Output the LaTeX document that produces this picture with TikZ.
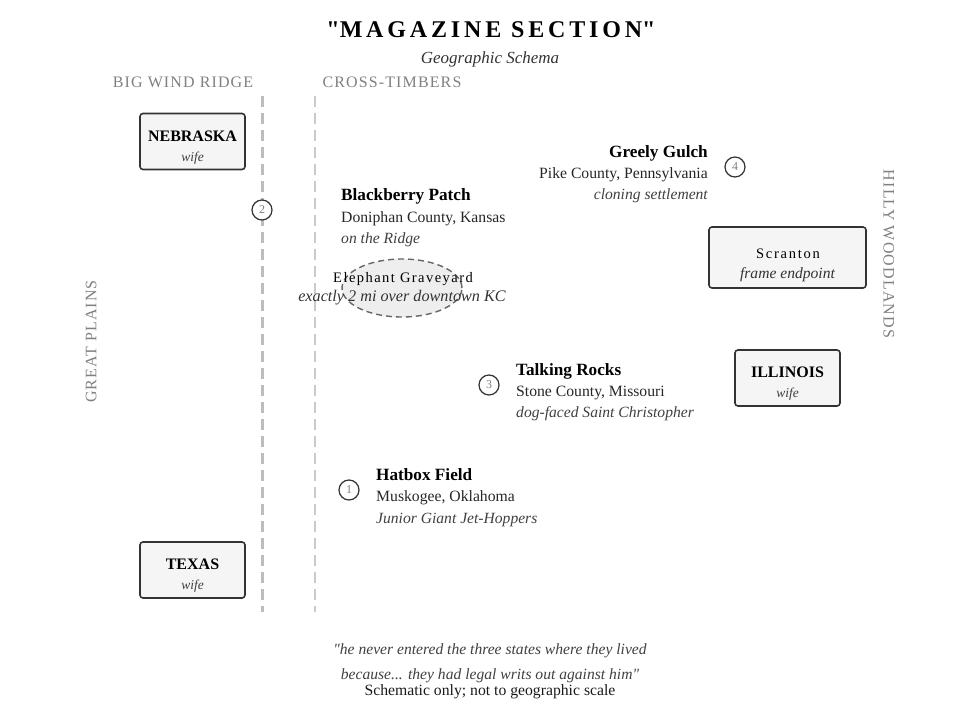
\documentclass[tikz,border=0pt]{standalone}
\usepackage{fontspec}
\setmainfont{Liberation Serif}
\usetikzlibrary{shapes.geometric}
\definecolor{boxfill}{HTML}{F5F5F5}
\definecolor{boxline}{HTML}{333333}
\definecolor{regiongray}{HTML}{808080}
\definecolor{linegray}{HTML}{BDBDBD}
\definecolor{ellfill}{HTML}{EEEEEE}
\tikzset{
  statebox/.style={draw=boxline, line width=1.6pt, fill=boxfill, rounded corners=3pt, minimum width=105pt, minimum height=56pt, inner sep=0pt},
  boxtitle/.style={inner sep=0pt, anchor=mid, font=\fontsize{16}{16}\selectfont\bfseries},
  boxnote/.style={inner sep=0pt, anchor=mid, font=\fontsize{13.5}{13.5}\selectfont\itshape, text=black!75},
  marker/.style={circle, draw=boxline, line width=1.2pt, fill=white, minimum size=20pt, inner sep=0pt, font=\fontsize{12}{12}\selectfont, text=gray},
  region/.style={text=regiongray, font=\fontsize{16}{16}\selectfont\addfontfeatures{LetterSpace=7}, inner sep=0pt, anchor=mid},
  ridge/.style={draw=linegray, line width=3pt, dash pattern=on 11pt off 6pt},
  timber/.style={draw=linegray!80, line width=2.5pt, dash pattern=on 11pt off 6pt},
  ttl/.style={font=\fontsize{17.2}{17.2}\selectfont\bfseries, inner sep=0pt},
  sub/.style={font=\fontsize{15.7}{15.7}\selectfont, text=black!85, inner sep=0pt},
  note/.style={font=\fontsize{15.6}{15.6}\selectfont\itshape, text=black!75, inner sep=0pt},
}
\begin{document}
\begin{tikzpicture}[x=1pt,y=-1pt]
\useasboundingbox (0,0) rectangle (980,717);
% title
\node[inner sep=0pt, anchor=mid, font=\fontsize{24}{24}\selectfont\bfseries\addfontfeatures{LetterSpace=16}] (title) at (491,35) {\textquotedbl MAGAZINE SECTION\textquotedbl};
\node[inner sep=0pt, anchor=mid, font=\fontsize{17}{17}\selectfont\itshape, text=black!80] (subtitle) at (490,61) {Geographic Schema};
% region labels
\node[region] (bwr) at (183,85) {BIG WIND RIDGE};
\node[region] (ct) at (392,85) {CROSS-TIMBERS};
\node[region, rotate=90] (gp) at (94,341.5) {GREAT PLAINS};
\node[region, rotate=-90] (hw) at (886,254) {HILLY WOODLANDS};
% dashed lines
\coordinate (r1) at (262,96); \coordinate (r2) at (262,612);
\coordinate (t1) at (315,96); \coordinate (t2) at (315,612);
\draw[ridge] (r1) -- (r2);
\draw[timber] (t1) -- (t2);
% Elephant Graveyard
\node[ellipse, draw=black!60, line width=1.4pt, dash pattern=on 6pt off 4pt, fill=ellfill, minimum width=120pt, minimum height=58pt] (eg) at (402,288) {};
\node[inner sep=0pt, anchor=mid, font=\fontsize{14.5}{14.5}\selectfont\addfontfeatures{LetterSpace=10}] (egt) at (403,280) {Elephant Graveyard};
\node[inner sep=0pt, anchor=mid, font=\fontsize{16.2}{16.2}\selectfont\itshape, text=black!80] (egs) at (402,299) {exactly 2 mi over downtown KC};
% state boxes
\node[statebox] (neb) at (192.5,141.5) {};
\node[boxtitle] (nebt) at (192.5,139) {NEBRASKA};
\node[boxnote] (nebn) at (192.5,159) {wife};
\node[statebox] (tex) at (192.5,570) {};
\node[boxtitle] (text) at (192.5,567) {TEXAS};
\node[boxnote] (texn) at (192.5,587) {wife};
\node[statebox] (ill) at (787.5,378) {};
\node[boxtitle] (illt) at (787.5,375) {ILLINOIS};
\node[boxnote] (illn) at (787.5,395) {wife};
\node[statebox, minimum width=157pt, minimum height=61pt] (scr) at (787.5,257.5) {};
\node[inner sep=0pt, anchor=mid, font=\fontsize{14.5}{14.5}\selectfont\addfontfeatures{LetterSpace=12}] (scrt) at (788,256) {Scranton};
\node[inner sep=0pt, anchor=mid, font=\fontsize{15.6}{15.6}\selectfont\itshape, text=black!80] (scrn) at (787.5,276) {frame endpoint};
% markers
\node[marker] (m2) at (262,210) {2};
\node[marker] (m4) at (735,167) {4};
\node[marker] (m3) at (489,385) {3};
\node[marker] (m1) at (349,490) {1};
% Blackberry Patch
\node[ttl, anchor=mid west] (bp) at (341,198) {Blackberry Patch};
\node[sub, anchor=mid west] (bps) at (341,220) {Doniphan County, Kansas};
\node[note, anchor=mid west] (bpn) at (341,241) {on the Ridge};
% Greely Gulch
\node[ttl, anchor=mid east] (gg) at (708,155) {Greely Gulch};
\node[sub, anchor=mid east] (ggs) at (708,176) {Pike County, Pennsylvania};
\node[note, anchor=mid east] (ggn) at (708,197) {cloning settlement};
% Talking Rocks
\node[ttl, anchor=mid west] (tr) at (516,373) {Talking Rocks};
\node[sub, anchor=mid west] (trs) at (516,394) {Stone County, Missouri};
\node[note, anchor=mid west] (trn) at (516,415) {dog-faced Saint Christopher};
% Hatbox Field
\node[ttl, anchor=mid west] (hf) at (376,478) {Hatbox Field};
\node[sub, anchor=mid west] (hfs) at (376,499) {Muskogee, Oklahoma};
\node[note, anchor=mid west] (hfn) at (376,521) {Junior Giant Jet-Hoppers};
% footer
\node[note, anchor=mid] (q1) at (490,652) {\textquotedbl he never entered the three states where they lived};
\node[note, anchor=mid] (q2) at (490,677) {because... they had legal writs out against him\textquotedbl};
\node[sub, anchor=mid, text=black!90] (fn) at (490,693) {Schematic only; not to geographic scale};
\end{tikzpicture}
\end{document}
